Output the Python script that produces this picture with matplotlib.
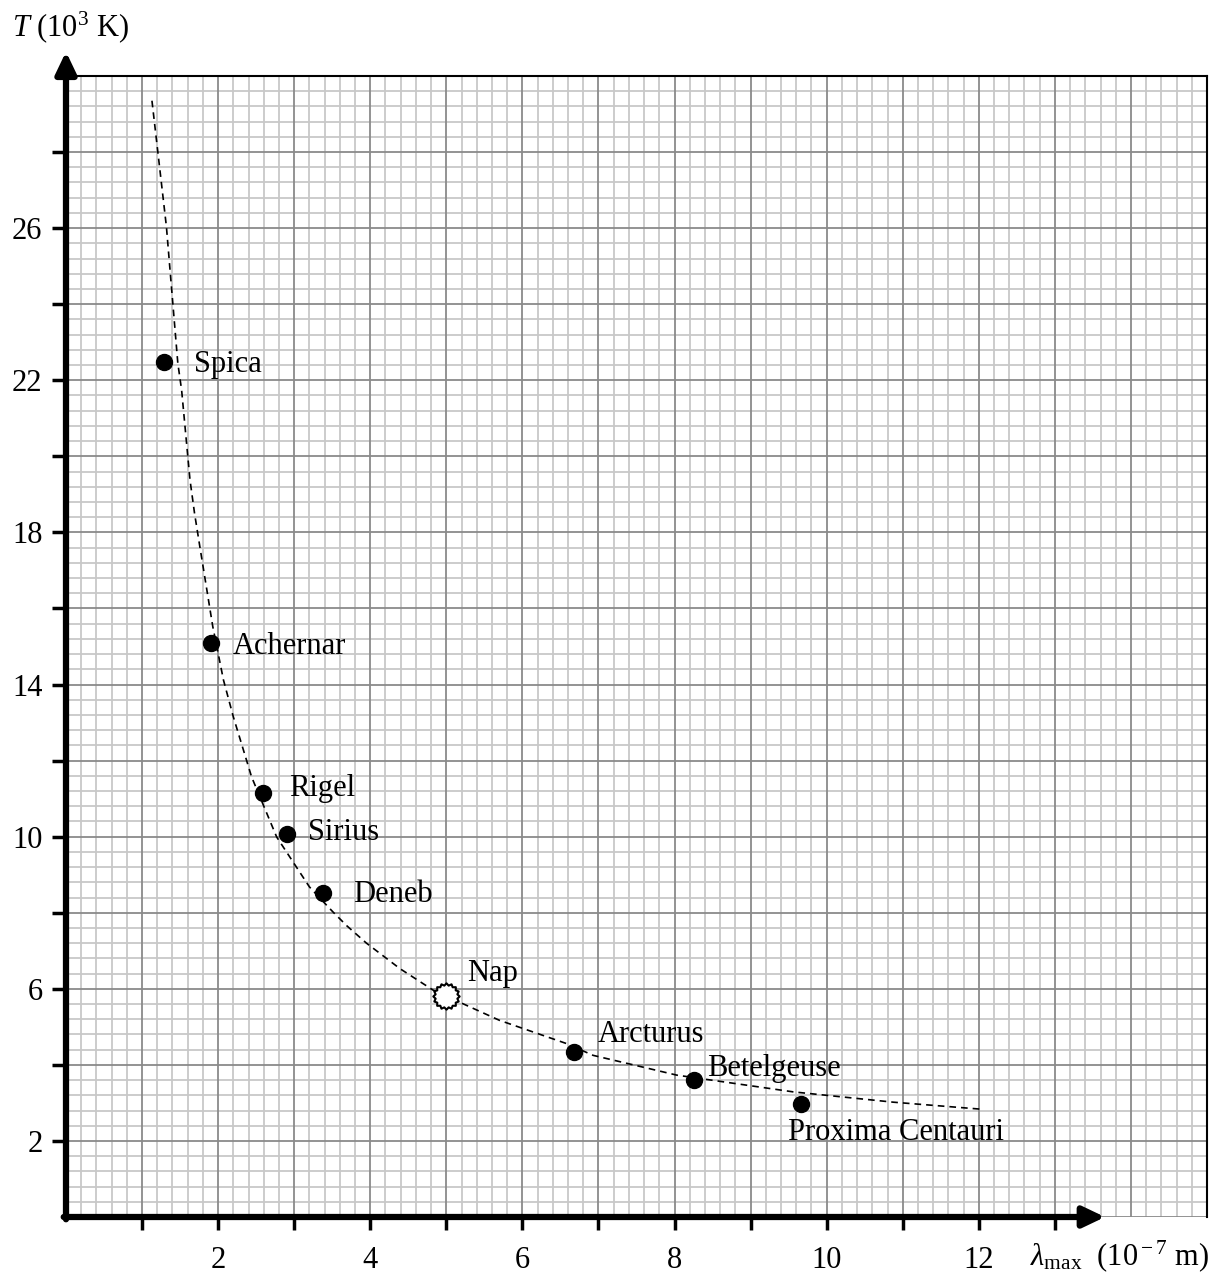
import numpy as np
import matplotlib
matplotlib.use("Agg")
import matplotlib.pyplot as plt
from matplotlib.path import Path

plt.rcParams['font.family'] = ['Liberation Serif', 'DejaVu Serif']
plt.rcParams['mathtext.fontset'] = 'custom'
plt.rcParams['mathtext.rm'] = 'Liberation Serif'
plt.rcParams['mathtext.it'] = 'Liberation Serif:italic'

# stars: peak wavelength (10^-7 m) and temperature (10^3 K)
names = ['Spica', 'Achernar', 'Rigel', 'Sirius', 'Deneb', 'Arcturus', 'Betelgeuse', 'Proxima Centauri']
lam = [1.29, 1.91, 2.59, 2.91, 3.38, 6.68, 8.26, 9.66]
temp = [22.47, 15.08, 11.15, 10.08, 8.52, 4.34, 3.60, 2.98]
# label offsets in pixels
offs = [(30, -2), (21, -3), (26, 4), (21, 1), (30, -2), (24, 17), (13, 12), (-13, -29)]

sun_name = 'Nap'
sun_lam = 4.99
sun_temp = 5.80

# dashed trend curve
curve_x = [1.13, 1.32, 1.47, 1.52, 1.63, 1.69, 1.76, 1.93, 2.07, 2.20, 2.44, 2.77, 3.20,
           3.34, 3.51, 3.69, 3.95, 4.39, 4.83, 5.70, 6.58, 6.93, 8.03, 9.56, 10.87, 12.06]
curve_y = [29.35, 26.04, 22.45, 21.74, 19.38, 18.50, 17.62, 15.52, 14.12, 13.15, 11.57, 9.99, 8.68,
           8.38, 8.02, 7.66, 7.20, 6.53, 5.96, 5.17, 4.56, 4.25, 3.73, 3.29, 3.02, 2.83]

xticks = np.arange(1, 14)
xticklabels = [str(v) if v % 2 == 0 and v <= 12 else '' for v in xticks]
yticks = np.arange(2, 30, 2)
yticklabels = [str(v) if v % 4 == 2 else '' for v in yticks]

fig = plt.figure(figsize=(12.31, 12.74), dpi=100)
ax = fig.add_axes([66/1231, 1 - 1217/1274, (1207-66)/1231, (1217-76)/1274])
ax.set_xlim(0, 15)
ax.set_ylim(0, 30)

# graph paper
for v in np.arange(0, 15.01, 0.2):
    major = abs(v - round(v)) < 1e-6
    ax.axvline(v, color='#8a8a8a' if major else '#c8c8c8', lw=1.3, zorder=1 if not major else 2)
for v in np.arange(0, 30.01, 0.4):
    major = abs(v / 2 - round(v / 2)) < 1e-6
    ax.axhline(v, color='#8a8a8a' if major else '#c8c8c8', lw=1.3, zorder=1 if not major else 2)

for s in ['left', 'bottom']:
    ax.spines[s].set_visible(False)
for s in ['top', 'right']:
    ax.spines[s].set_color('black')
    ax.spines[s].set_linewidth(1.5)
    ax.spines[s].set_zorder(3)

# axes with arrows
astyle = '-|>,head_length=1.3,head_width=0.62'
ax.annotate('', xy=(13.66, 0), xytext=(-0.03, 0),
            arrowprops=dict(arrowstyle=astyle, lw=4.5, color='black', shrinkA=0, shrinkB=0),
            annotation_clip=False, zorder=5)
ax.annotate('', xy=(0, 30.64), xytext=(0, -0.06),
            arrowprops=dict(arrowstyle=astyle, lw=4.5, color='black', shrinkA=0, shrinkB=0),
            annotation_clip=False, zorder=5)

ax.set_xticks(xticks)
ax.set_xticklabels(xticklabels)
ax.set_yticks(yticks)
ax.set_yticklabels(yticklabels)
ax.tick_params(axis='x', direction='out', length=9, width=2.5, pad=12, labelsize=22)
ax.tick_params(axis='y', direction='out', length=10, width=2.5, pad=7, labelsize=22)
ax.tick_params(top=False, right=False)

# curve and points
ax.plot(curve_x, curve_y, color='black', lw=1.2, ls=(0, (4, 3)), zorder=4)
ax.plot(lam, temp, 'o', color='black', markersize=11.5, zorder=6)

n = 16
ang = np.linspace(0, 2 * np.pi, 2 * n, endpoint=False)
rad = np.where(np.arange(2 * n) % 2 == 0, 1.0, 0.84)
verts = np.column_stack([rad * np.sin(ang), rad * np.cos(ang)])
sun_marker = Path(np.vstack([verts, verts[:1]]), closed=True)
ax.plot([sun_lam], [sun_temp], marker=sun_marker, markersize=19, markerfacecolor='white',
        markeredgecolor='black', markeredgewidth=1.5, ls='none', zorder=6)

for nm, x, y, (dx, dy) in zip(names, lam, temp, offs):
    ax.annotate(nm, xy=(x, y), xytext=(dx, dy), textcoords='offset pixels',
                ha='left', va='center', fontsize=22, zorder=7)
ax.annotate(sun_name, xy=(sun_lam, sun_temp), xytext=(22, 23), textcoords='offset pixels',
            ha='left', va='center', fontsize=22, zorder=7)

fig.text(12/1231, 1 - 27/1274, r'$T$ (10$^3$ K)', fontsize=22, ha='left', va='center')
fig.text(1030/1231, 1 - 1256/1274, r'$\lambda_{\rm max}$  (10$^{\rm -7}$ m)', fontsize=22,
         ha='left', va='center')

fig.savefig('out.png', dpi=100)
